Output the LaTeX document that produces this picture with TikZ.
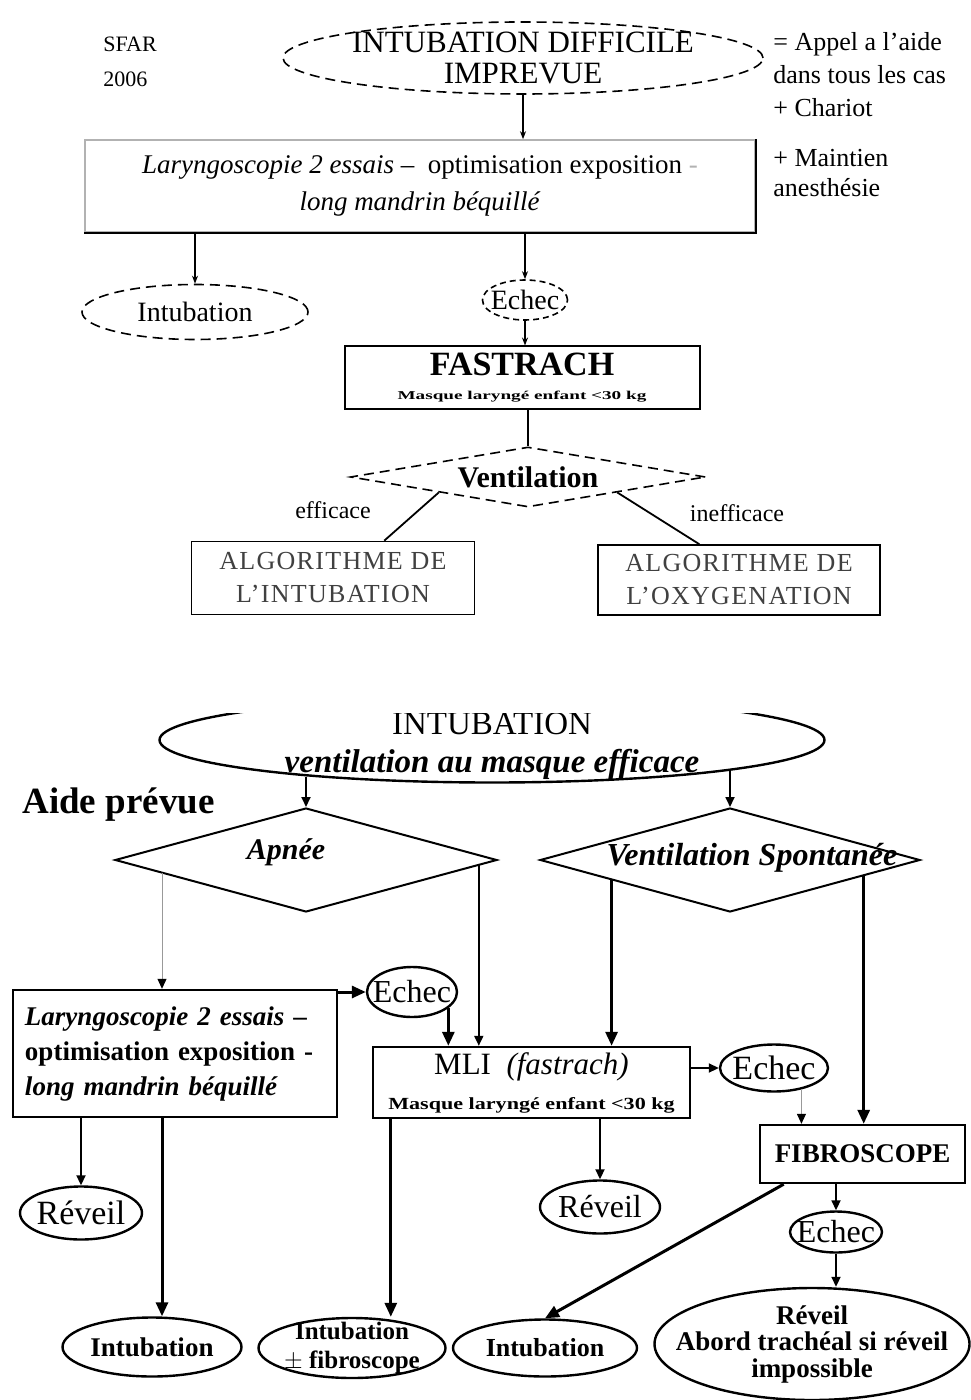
\documentclass[tikz,border=0pt]{standalone}
\usepackage{fontspec}
\setmainfont{Liberation Serif}
\usetikzlibrary{positioning, calc, arrows.meta, shapes.geometric}
\newcommand{\fsz}[2]{\fontsize{#1}{#2}\selectfont}

\begin{document}
\begin{tikzpicture}[x = 0.5pt, y = -0.5pt,
	box/.style={draw, rectangle, inner sep=0pt, align=center},
	oval/.style={draw, ellipse, inner sep=0pt},
	rhomb/.style={draw, diamond, inner sep=0pt},
	longdash/.style={dash pattern=on 5pt off 3pt},
	shortdash/.style={dash pattern=on 3pt off 2pt},
	arr/.style={-{Stealth[length=4pt, width=3pt]}, line width=0.7pt},
	medarr/.style={-{Triangle[length=5pt, width=4.5pt]}, line width=0.9pt},
	thinarr/.style={-{Triangle[length=5pt, width=4.5pt, color=black]}, line width=0.5pt, black!40},
	fatarr/.style={-{Triangle[length=7pt, width=6pt]}, line width=1.5pt}
]
\useasboundingbox (0,0) rectangle (970,1400);

\node[anchor=west, align=left, inner sep=0pt, font=\fsz{11}{17.5}] (sfar) at (103,62) {SFAR\\2006};
\node[oval, longdash, line width=0.8pt, minimum width=240pt, minimum height=36pt,
	label={[align=center, font=\fsz{15.5}{15.5}]center:INTUBATION DIFFICILE\\IMPREVUE}] (title) at (523,58) {};
\node[anchor=west, align=left, inner sep=0pt, font=\fsz{13}{16.5}] (appel) at (773,75) {= Appel a l'aide\\dans tous les cas\\+ Chariot};
\node[anchor=west, align=left, inner sep=0pt, font=\fsz{13}{15}] (maint) at (773,173) {+ Maintien\\anesthésie};

\node[box, draw=black!30, line width=0.8pt, minimum width=335pt, minimum height=46pt, font=\fsz{13.5}{18.5}] (lar1) at (420,186)
	{\textit{Laryngoscopie 2 essais} --\ \ optimisation exposition {\color{black!30}-}\\\textit{long mandrin béquillé}};
\draw[line width=0.9pt] (lar1.north east) -- (lar1.south east) -- (lar1.south west);

\node[oval, longdash, line width=0.8pt, minimum width=113pt, minimum height=27.5pt,
	label={[font=\fsz{14}{16}]center:Intubation}] (intub1) at (195,312) {};
\node[oval, shortdash, line width=0.8pt, minimum width=42.5pt, minimum height=20pt,
	label={[font=\fsz{14}{16}]center:Echec}] (echec1) at (525,300) {};
\node[box, line width=1pt, minimum width=177.5pt, minimum height=31.5pt, font=\fsz{17}{12}\bfseries] (fastrach) at (522,378)
	{FASTRACH\\{\fsz{6}{6}\scalebox{1.6}[1]{Masque laryngé enfant <30 kg}}};
\node[rhomb, longdash, line width=0.8pt, minimum width=177.5pt, minimum height=30pt,
	label={[font=\fsz{15}{17}\bfseries]center:Ventilation}] (vent) at (528,477) {};
\node[box, line width=0.8pt, minimum width=141.5pt, minimum height=36.5pt, text=black!75,
	font=\fsz{13}{16.5}\addfontfeatures{LetterSpace=5}] (algo1) at (333,578) {ALGORITHME DE\\L'INTUBATION};
\node[box, line width=0.8pt, minimum width=141pt, minimum height=35pt, text=black!75,
	font=\fsz{13}{16.5}\addfontfeatures{LetterSpace=5}] (algo2) at (739,580) {ALGORITHME DE\\L'OXYGENATION};
\node[font=\fsz{12}{14}] (effic) at (333,510) {efficace};
\node[font=\fsz{12}{14}] (ineffic) at (737,513) {inefficace};

\draw[arr] (title.south) -- (title.south |- lar1.north);
\draw[arr] (intub1.north |- lar1.south) -- (intub1.north);
\draw[arr] (echec1.north |- lar1.south) -- (echec1.north);
\draw[arr] (echec1.south) -- (echec1.south |- fastrach.north);
\draw[line width=0.8pt] (vent.north |- fastrach.south) -- (vent.north);
\draw[line width=0.9pt] (vent.south west) -- ($(algo1.north west)!0.68!(algo1.north east)$);
\draw[line width=0.9pt] (vent.south east) -- ($(algo2.north west)!0.36!(algo2.north east)$);

\begin{scope}
\clip (0,713) rectangle (970,800);
\node[oval, line width=1.2pt, minimum width=332.5pt, minimum height=42.5pt,
	label={[align=center, font=\fsz{16.5}{19}, yshift=-3pt]center:INTUBATION\\{\bfseries\itshape ventilation au masque efficace}}] (intub0) at (492,740) {};
\end{scope}
\node[anchor=west, inner sep=0pt, font=\fsz{18.5}{20}\bfseries] (aide) at (22,805) {Aide prévue};
\node[rhomb, line width=1pt, minimum width=191pt, minimum height=52pt,
	label={[font=\fsz{15}{17}\bfseries\itshape, xshift=-10pt, yshift=4pt]center:Apnée}] (apnee) at (306,860) {};
\node[rhomb, line width=1pt, minimum width=190pt, minimum height=52pt,
	label={[font=\fsz{16}{17}\bfseries\itshape, xshift=11pt, yshift=1pt]center:Ventilation Spontanée}] (vs) at (730,860) {};

\node[box, line width=1.2pt, minimum width=162pt, minimum height=63.5pt, text width=150pt, align=left, font=\fsz{13.5}{17.5}\bfseries] (lar2) at (175,1053.5)
	{\textit{Laryngoscopie 2 essais} --\\optimisation exposition -\\\textit{long mandrin béquillé}};
\node[oval, line width=1.2pt, minimum width=45pt, minimum height=25pt, label={[font=\fsz{16}{18}]center:Echec}] (echec2) at (412,992) {};
\node[box, line width=1.2pt, minimum width=158.5pt, minimum height=35.5pt, font=\fsz{15.5}{17.5}] (mli) at (531.5,1082.5)
	{MLI\enspace\textit{(fastrach)}\\{\fsz{8.5}{8.5}\bfseries\scalebox{1.3}[1]{Masque laryngé enfant <30 kg}}};
\node[oval, line width=1.2pt, minimum width=54pt, minimum height=23.5pt, label={[font=\fsz{17}{18}]center:Echec}] (echec3) at (774,1068) {};
\node[box, line width=1.2pt, minimum width=102.5pt, minimum height=29pt, font=\fsz{13.5}{14}\bfseries] (fibro) at (862.5,1154) {FIBROSCOPE};

\node[oval, line width=1.2pt, minimum width=61pt, minimum height=26.5pt, label={[font=\fsz{17}{18}]center:Réveil}] (reveil1) at (81,1213) {};
\node[oval, line width=1.2pt, minimum width=60pt, minimum height=26.5pt, label={[font=\fsz{16}{18}]center:Réveil}] (reveil2) at (600,1207) {};
\node[oval, line width=1.2pt, minimum width=46pt, minimum height=20.5pt, label={[font=\fsz{16}{18}]center:Echec}] (echec4) at (836,1232) {};
\node[oval, line width=1.2pt, minimum width=89.5pt, minimum height=29.5pt, label={[font=\fsz{13.5}{14}\bfseries]center:Intubation}] (intub2) at (152,1347) {};
\node[oval, line width=1.2pt, minimum width=93.5pt, minimum height=30pt,
	label={[align=center, font=\fsz{12.5}{14.5}\bfseries]center:Intubation\\$\pm$ fibroscope}] (intub3) at (352,1348) {};
\node[oval, line width=1.2pt, minimum width=92pt, minimum height=28.5pt, label={[font=\fsz{13}{14}\bfseries]center:Intubation}] (intub4) at (545,1348) {};
\node[oval, line width=1.2pt, minimum width=157.5pt, minimum height=56pt,
	label={[align=center, font=\fsz{13.5}{13.25}\bfseries]center:Réveil\\Abord trachéal si réveil\\impossible}] (final) at (812,1344) {};

\draw[medarr, shorten <=-3.6pt] (apnee.north |- intub0.south) -- (apnee.north);
\draw[medarr, shorten <=-6.4pt] (vs.north |- intub0.south) -- (vs.north);
\draw[thinarr] ($(apnee.west)!0.25!(apnee.south)$) coordinate (ap1) -- (ap1 |- lar2.north);
\draw[medarr] ($(apnee.south)!0.9!(apnee.east)$) coordinate (ap2) -- (ap2 |- mli.north);
\draw[fatarr] ($(vs.west)!0.38!(vs.south)$) coordinate (vs1) -- (vs1 |- mli.north);
\draw[fatarr] ($(vs.south)!0.7!(vs.east)$) coordinate (vs2) -- (vs2 |- fibro.north);
\draw[fatarr] (lar2.north east |- echec2.west) -- (echec2.west);
\draw[fatarr] (echec2.-24) -- (echec2.-24 |- mli.north);
\draw[medarr] (mli.north east |- echec3.west) -- (echec3.west);
\draw[thinarr] (echec3.-38) -- (echec3.-38 |- fibro.north);
\draw[medarr] (reveil1.north |- lar2.south) -- (reveil1.north);
\draw[fatarr] (ap1 |- lar2.south) -- (ap1 |- intub2.north);
\draw[fatarr] ($(mli.south west)+(19,0)$) coordinate (m1) -- (m1 |- intub3.north);
\draw[medarr] (reveil2.north |- mli.south) -- (reveil2.north);
\draw[fatarr] ($(fibro.south west)!0.12!(fibro.south east)$) -- (intub4.north);
\draw[medarr] (echec4.north |- fibro.south) -- (echec4.north);
\draw[medarr] (echec4.south) -- (echec4.south |- final.north);
\end{tikzpicture}
\end{document}
